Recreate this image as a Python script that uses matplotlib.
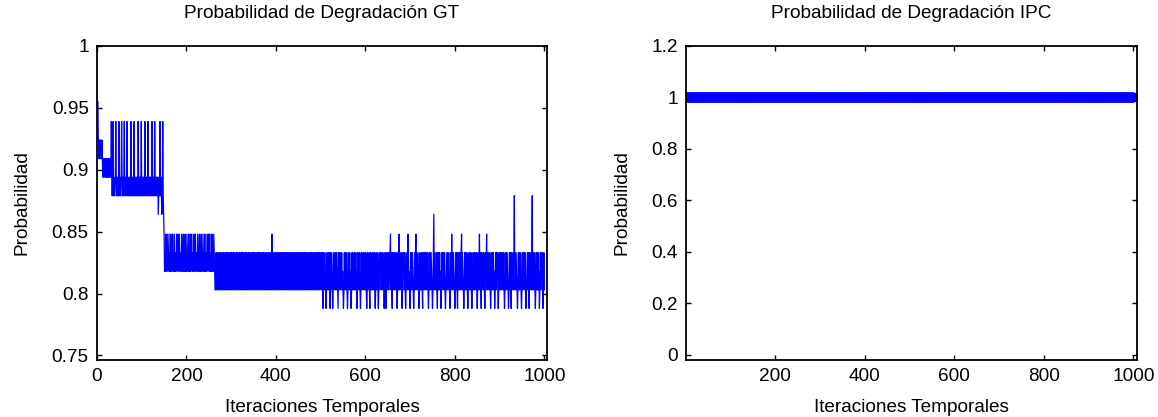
import numpy as np
import matplotlib
matplotlib.use("Agg")
import matplotlib.pyplot as plt

plt.rcParams['font.family'] = ['Liberation Sans', 'DejaVu Sans']

# probability levels seen in the GT curve (code letter -> value)
level_codes = ['A', 'B', 'C', 'D', 'E', 'F', 'G', 'H', 'I', 'J', 'K', 'L']
level_values = [0.955, 0.939, 0.924, 0.909, 0.894, 0.879, 0.864, 0.848, 0.833, 0.818, 0.803, 0.788]

# GT degradation probability, one letter per iteration
gt_seg1 = "AACDCDCCDDCD"                       # 1-12
gt_seg2 = "EEDEDDEEDEDEEDEDDEE"                # 13-31
gt_seg3 = ("BEFEBFEFFE" "BEFEFEFBFE" "FFEBEFEFEB" "FEFEFBEFFE"
           "FEFEBFEFEF" "EBFFEFEFEF" "BEFEFEFBFE" "FEFEFBEFEF"
           "EFBFEFEFEF" "EBFEFEFBEF" "EFEFEGFEFB" "FEFGFBFG")      # 32-149
gt_seg4 = ("HJIJHJIHJJ" "IHJIJHJJIH" "JIJHJIJJHI" "JHJIHJJIJH"
           "IJJHJIJHJI" "JHIJJHJIJH" "JIHJJIJHJI" "HJJIJHIJJH"
           "JIJHJJIHJI" "JHJIJJHIJH" "IJHJIJJHJI" "JHIJK")         # 150-264
gt_seg5 = ("KIKIJKIKJI" "KIKJIKIKIK" "JIKIKIJKIK" "IKJIKIKIKJ"
           "IKIKJKIKIK" "IJKIKIKJIK" "IKIKJIKIKI" "KJIKIKIKJI"
           "KIKIJKIKIK" "JIKIKJIKIK" "IKIJKIKIKJ" "IKIKIKJIKI"
           "KIJKIKHKIK" "IKJIKIKIJK" "IKIKJIKIKI" "KJIKIKIJKI"
           "KIKIKJIKIK" "IJKIKIKJIK" "IKIKJIKIKI" "KIJKIKIKJI"
           "KIKIKJIKIK" "JIKIKIJKIK" "IKJIKIKIKJ" "IKIKJIKIKI")  # 265-504
gt_seg6 = ("LKIKJIKLKI" "KJIKIKLIKJ" "IKLKIJKIKI" "KIJKLIKIKJ"
           "IKIKJKLKIK" "JIKIKLKIJK" "IKJLKIKIKJ" "KIKIKJLIKI"
           "JKIKLKIKJI" "KIJKIKIKLK" "IKJIKLIKJK" "IKIJKIKLKI"
           "KJIKLKIKIJ" "IKIKJIKLKI" "KLIKJIKIKJ" "IHKIKLIJKI"
           "KIJKIKLKIK" "HKIJKIKLKI" "JIKIKLKIJK" "HIKJKLIKIK"
           "IJKLKIKIHK" "IKJIKLKIKJ" "KIKLIJKIKI" "KJIKIKLKIK"
           "IKIJKLKIGK" "IKJKIKLIKI" "KIKJLKIKIJ" "IKIKLKJIKI"
           "KJIKLKIKHK" "IKIJKLKIKI" "KLIKJIKIKI" "HKIJKLKIKI"
           "JKIKLKIJKI" "KIKLKIJKIK" "IJKIKLKIKJ" "HKIKLIKJIK"
           "IKLKIJHKIK" "IJKIKLKIKI" "KIKJLKIKIJ" "IKLKIKJIKI"
           "KJIKIKLKIK" "IKIJKLKIKI" "KLIKJIKIFK" "IKIJKLKIKI"
           "KJIKLKIKIJ" "IKIKLKJIKI" "KLIKJIKIFK" "IKJIKLKIKI"
           "KIKJLKIKIJ" "IKLKIK")                                   # 505-1000

# IPC degradation probability stays at 1 for every iteration
ipc_prob = [1.0] * 1000

xticks_gt = [0, 200, 400, 600, 800, 1000]
yticks_gt = [0.75, 0.8, 0.85, 0.9, 0.95, 1.0]
ylabels_gt = ['0.75', '0.8', '0.85', '0.9', '0.95', '1']
xticks_ipc = [200, 400, 600, 800, 1000]
yticks_ipc = [0, 0.2, 0.4, 0.6, 0.8, 1.0, 1.2]
ylabels_ipc = ['0', '0.2', '0.4', '0.6', '0.8', '1', '1.2']

lookup = dict(zip(level_codes, level_values))
gt_codes = gt_seg1 + gt_seg2 + gt_seg3 + gt_seg4 + gt_seg5 + gt_seg6
assert len(gt_codes) == 1000, len(gt_codes)
gt_prob = np.array([lookup[c] for c in gt_codes])
iters = np.arange(1, len(gt_prob) + 1)

FS = 13.7

fig = plt.figure(figsize=(11.58, 4.17), dpi=100)
W, H = 1158.0, 417.0
ax1 = fig.add_axes([97 / W, (H - 360) / H, 450 / W, 314 / H])
ax2 = fig.add_axes([686 / W, (H - 360) / H, 451 / W, 314 / H])


def style(ax):
    for s in ax.spines.values():
        s.set_linewidth(1.3)
    ax.tick_params(direction='in', length=3.5, width=1, top=True, right=True,
                   labelsize=FS, pad=6)


ax1.plot(iters, gt_prob, color='#0000ff', lw=0.9)
ax1.set_xlim(0, 1006)
ax1.set_ylim(0.7463, 1.0)
ax1.set_xticks(xticks_gt)
ax1.set_yticks(yticks_gt)
ax1.set_yticklabels(ylabels_gt)
ax1.set_title('Probabilidad de Degradación GT', fontsize=FS, pad=20)
ax1.set_xlabel('Iteraciones Temporales', fontsize=FS, labelpad=10)
ax1.set_ylabel('Probabilidad', fontsize=FS, labelpad=15)
style(ax1)

ax2.plot(iters, ipc_prob, 'o', color='#0000ff', ms=6.5, mew=0.5)
ax2.set_xlim(1, 1008)
ax2.set_ylim(-0.02, 1.2)
ax2.set_xticks(xticks_ipc)
ax2.set_yticks(yticks_ipc)
ax2.set_yticklabels(ylabels_ipc)
ax2.set_title('Probabilidad de Degradación IPC', fontsize=FS, pad=20)
ax2.set_xlabel('Iteraciones Temporales', fontsize=FS, labelpad=10)
ax2.set_ylabel('Probabilidad', fontsize=FS, labelpad=15)
style(ax2)

fig.savefig('out.png', dpi=100)
